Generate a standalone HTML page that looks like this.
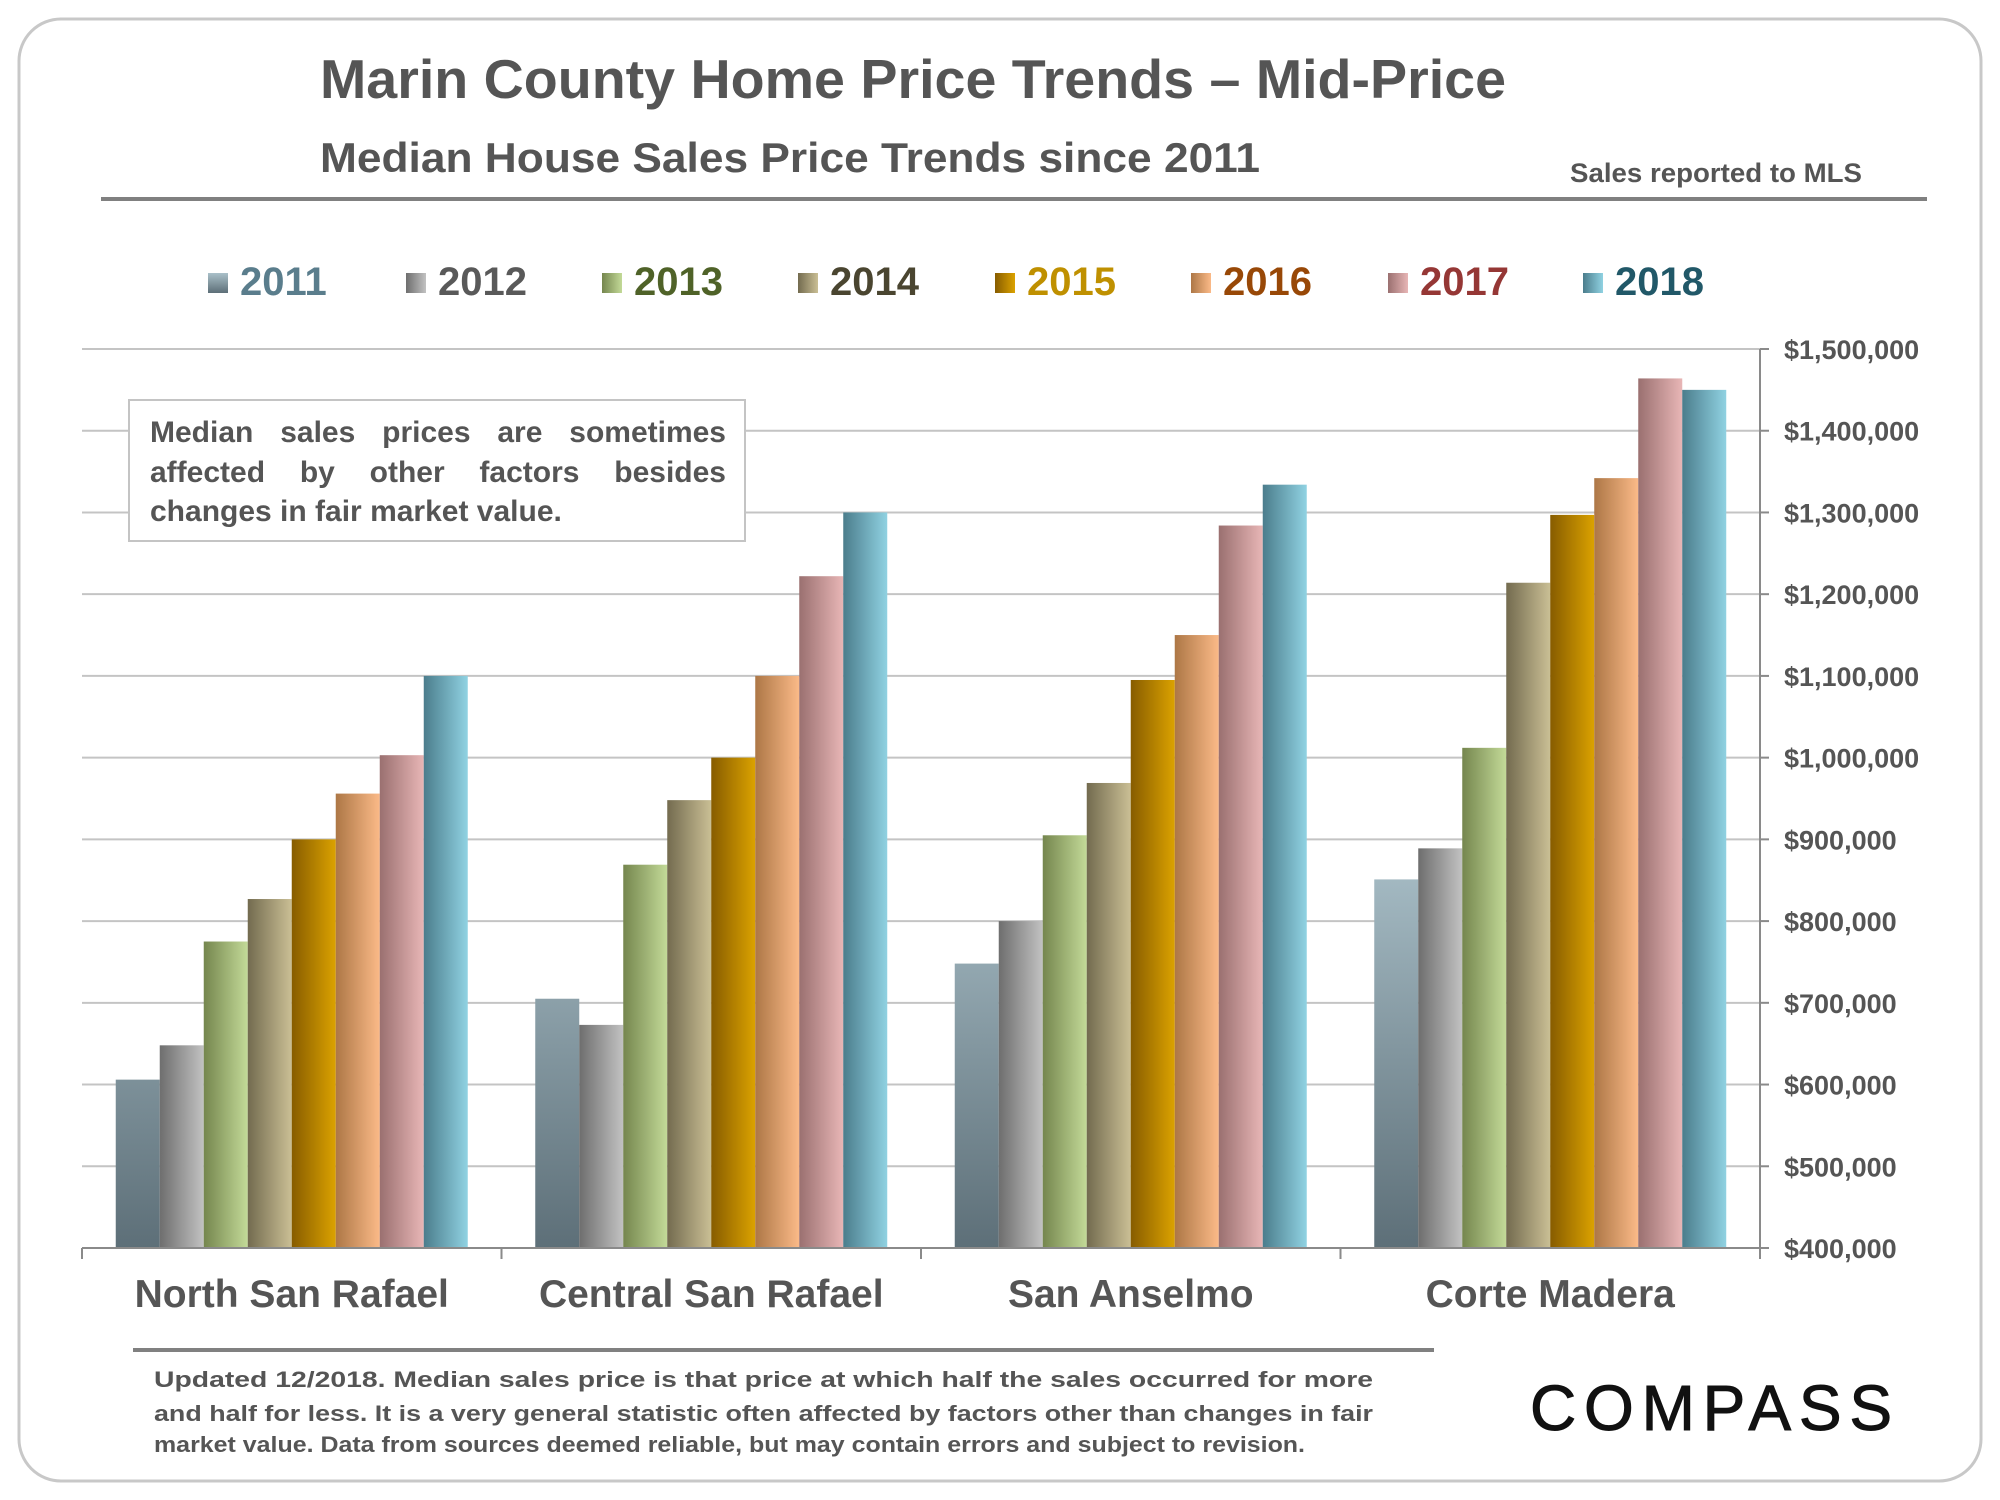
<!DOCTYPE html>
<html><head><meta charset="utf-8"><style>
html,body{margin:0;padding:0;background:#fff;}
svg{display:block;font-family:"Liberation Sans",Arial,sans-serif;font-weight:bold;}
</style></head><body>
<svg id="chart" width="2000" height="1500" viewBox="0 0 2000 1500" xmlns="http://www.w3.org/2000/svg">
<defs id="defs"></defs>
<rect x="19" y="19" width="1962" height="1462" rx="42" fill="#fff" stroke="#c8c8c8" stroke-width="3"/>
<text x="320" y="98" font-size="55" fill="#555" textLength="1186" lengthAdjust="spacingAndGlyphs">Marin County Home Price Trends – Mid-Price</text>
<text x="320" y="172" font-size="42" fill="#555" textLength="940" lengthAdjust="spacingAndGlyphs">Median House Sales Price Trends since 2011</text>
<text x="1570" y="182" font-size="27" fill="#555" textLength="292" lengthAdjust="spacingAndGlyphs">Sales reported to MLS</text>
<rect x="101" y="197" width="1826" height="4" fill="#808080"/>
<g id="legend"></g>
<g id="grid"></g>
<g id="bars"></g>
<g id="axes"></g>
<g id="note">
<rect x="129" y="400" width="616" height="141" fill="#fff" stroke="#c4c4c4" stroke-width="2"/>
<text class="just" x="150" y="442" font-size="30" fill="#555">Median sales prices are sometimes</text>
<text class="just" x="150" y="482" font-size="30" fill="#555">affected by other factors besides</text>
<text x="150" y="521" font-size="30" fill="#555">changes in fair market value.</text>
</g>
<rect x="133" y="1348" width="1301" height="4" fill="#808080"/>
<g fill="#555" font-size="22">
<text x="154" y="1387" textLength="1219" lengthAdjust="spacingAndGlyphs">Updated 12/2018. Median sales price is that price at which half the sales occurred for more</text>
<text x="154" y="1421" textLength="1219" lengthAdjust="spacingAndGlyphs">and half for less. It is a very general statistic often affected by factors other than changes in fair</text>
<text x="154" y="1452" textLength="1151" lengthAdjust="spacingAndGlyphs">market value. Data from sources deemed reliable, but may contain errors and subject to revision.</text>
</g>
<text x="1530" y="1430" font-size="64" font-weight="normal" fill="#111" stroke="#111" stroke-width="1" textLength="362" lengthAdjust="spacing">COMPASS</text>
</svg>
<script>
const categories = ["North San Rafael","Central San Rafael","San Anselmo","Corte Madera"];
const years = ["2011","2012","2013","2014","2015","2016","2017","2018"];
const v2011 = [606000,705000,748000,851000];
const v2012 = [648000,673000,800000,889000];
const v2013 = [775000,869000,905000,1012000];
const v2014 = [827000,948000,969000,1214000];
const v2015 = [900000,1000000,1095000,1297000];
const v2016 = [956000,1100000,1150000,1342000];
const v2017 = [1003000,1222000,1284000,1464000];
const v2018 = [1100000,1300000,1334000,1450000];
const yTicks = [400000,500000,600000,700000,800000,900000,1000000,1100000,1200000,1300000,1400000,1500000];
const yTickLabels = ["$400,000","$500,000","$600,000","$700,000","$800,000","$900,000","$1,000,000","$1,100,000","$1,200,000","$1,300,000","$1,400,000","$1,500,000"];

const series = [v2011,v2012,v2013,v2014,v2015,v2016,v2017,v2018];
const grads = [["#5d6f78","#aac0c9"],["#6e6e6e","#c2c2c2"],["#75864e","#c3da98"],["#736b4f","#cabf95"],["#875c00","#dba200"],["#ad7746","#fbba88"],["#9a7070","#e8b6b6"],["#4b7d8c","#90d2e2"]];
const textCols = ["#5a7d8c","#595959","#4f6228","#4a4530","#bf9000","#984807","#953735","#215868"];
const NS = "http://www.w3.org/2000/svg";
const X0 = 82, X1 = 1760, YB = 1248, YT = 349, YMIN = 400000, YMAX = 1500000;
const gw = (X1 - X0) / categories.length, bw = 44;
function y(v){ return YB - (v - YMIN) / (YMAX - YMIN) * (YB - YT); }
function mk(tag, attrs, parent){ const e = document.createElementNS(NS, tag); for (const k in attrs) e.setAttribute(k, attrs[k]); parent.appendChild(e); return e; }
const defs = document.getElementById('defs');
grads.forEach((g, i) => {
  const lg = mk('linearGradient', i === 0 ? {id:'g'+i,x1:0,y1:1,x2:0,y2:0} : {id:'g'+i,x1:0,y1:0,x2:1,y2:0}, defs);
  mk('stop', {offset:'0', 'stop-color':g[0]}, lg);
  mk('stop', {offset:'1', 'stop-color':g[1]}, lg);
});
defs.querySelector('#g0').setAttribute('gradientUnits','userSpaceOnUse');
defs.querySelector('#g0').setAttribute('y1', YB);
defs.querySelector('#g0').setAttribute('y2', y(900000));

const grid = document.getElementById('grid');
yTicks.forEach((t, i) => {
  if (i > 0) {
    const l = mk('line', {x1:X0, x2:X1, y1:y(t), y2:y(t), stroke:'#c4c4c4', 'stroke-width':2}, grid);
    
    
  }
});
const bars = document.getElementById('bars');
categories.forEach((c, ci) => {
  const gx = X0 + ci * gw + (gw - years.length * bw) / 2;
  series.forEach((s, si) => {
    const r = mk('rect', {x:gx + si * bw, y:y(s[ci]), width:bw, height:YB - y(s[ci]), fill:'url(#g'+si+')'}, bars);
    
    
  });
});
const axes = document.getElementById('axes');
mk('line', {x1:X0, x2:X1, y1:YB, y2:YB, stroke:'#8a8a8a', 'stroke-width':2}, axes);
mk('line', {x1:X1, x2:X1, y1:YT, y2:YB + 10, stroke:'#8a8a8a', 'stroke-width':2}, axes);
for (let i = 0; i <= categories.length; i++) {
  mk('line', {x1:X0 + i * gw, x2:X0 + i * gw, y1:YB, y2:YB + 11, stroke:'#8a8a8a', 'stroke-width':2}, axes);
}
yTicks.forEach((t, i) => {
  mk('line', {x1:X1, x2:X1 + 9, y1:y(t), y2:y(t), stroke:'#8a8a8a', 'stroke-width':2}, axes);
  const tx = mk('text', {x:1784, y:y(t) + 10, 'font-size':27, fill:'#555'}, axes);
  tx.textContent = yTickLabels[i];
  
  
});
categories.forEach((c, ci) => {
  const tx = mk('text', {x:X0 + ci * gw + gw / 2, y:1307, 'font-size':39, fill:'#555', 'text-anchor':'middle'}, axes);
  tx.textContent = c;
  
  
});
const legend = document.getElementById('legend');
const legX = [208,406,602,798,995,1191,1388,1583];
years.forEach((yr, i) => {
  const g = mk('g', {}, legend);
  
  
  mk('rect', {x:legX[i], y:273, width:20, height:20, fill:'url(#L'+i+')'}, g);
  const lg = mk('linearGradient', i === 0 ? {id:'L'+i,x1:0,y1:1,x2:0,y2:0} : {id:'L'+i,x1:0,y1:0,x2:1,y2:0}, defs);
  mk('stop', {offset:'0', 'stop-color':grads[i][0]}, lg);
  mk('stop', {offset:'1', 'stop-color':grads[i][1]}, lg);
  const tx = mk('text', {x:legX[i] + 32, y:295, 'font-size':40, fill:textCols[i]}, g);
  tx.textContent = yr;
});
document.querySelectorAll('#note text.just').forEach(t => {
  const words = t.textContent.split(' ');
  const w = t.getComputedTextLength();
  const extra = (576 - w) / (words.length - 1);
  if (extra > 0) t.setAttribute('word-spacing', extra);
});
</script>
</body></html>
